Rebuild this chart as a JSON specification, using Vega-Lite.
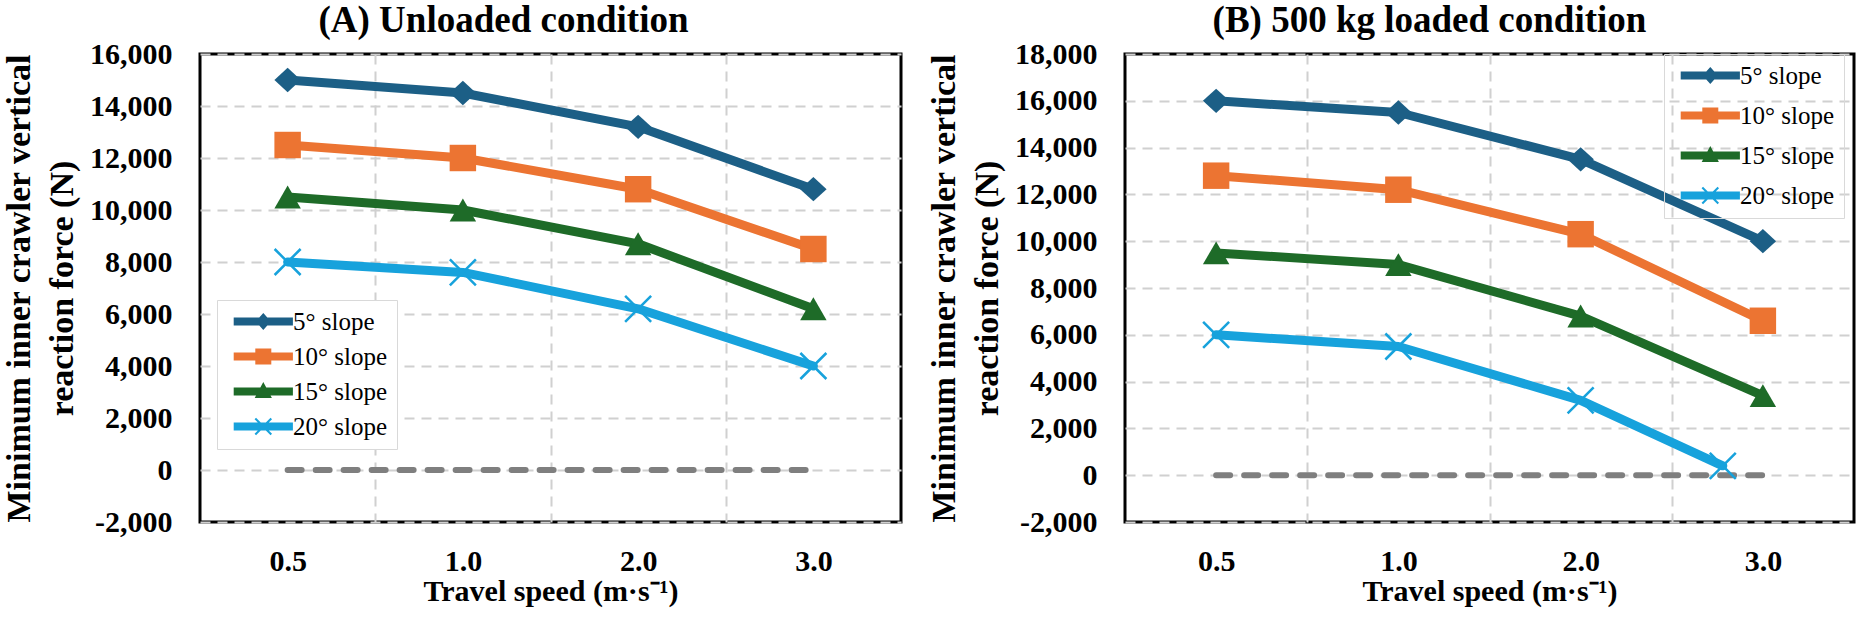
{
  "$schema": "https://vega.github.io/schema/vega-lite/v6.json",
  "background": "white",
  "padding": {"left": 0, "top": 0, "right": 0, "bottom": 0},
  "spacing": 22,
  "config": {
    "font": "Liberation Serif",
    "view": {"stroke": "black", "strokeWidth": 3},
    "axis": {
      "gridColor": "#d0d0d0",
      "gridDash": [10, 7],
      "gridWidth": 2,
      "ticks": false,
      "domain": false,
      "labelColor": "black",
      "titleColor": "black",
      "labelFont": "Liberation Serif",
      "titleFont": "Liberation Serif",
      "labelFontWeight": "bold",
      "titleFontWeight": "bold"
    },
    "legend": {
      "labelFont": "Liberation Serif",
      "labelFontSize": 25,
      "labelColor": "black",
      "symbolSize": 64,
      "symbolStrokeWidth": 0,
      "labelOffset": 42,
      "padding": 9,
      "strokeColor": "#d9d9d9",
      "labelLimit": 0
    }
  },
  "datasets": {
    "baseline": [
      {"speedIndex": 0, "force": 0},
      {"speedIndex": 1, "force": 0},
      {"speedIndex": 2, "force": 0},
      {"speedIndex": 3, "force": 0}
    ],
    "unloaded": [
      {"slope": "5° slope", "speedIndex": 0, "force": 15000},
      {"slope": "5° slope", "speedIndex": 1, "force": 14500},
      {"slope": "5° slope", "speedIndex": 2, "force": 13200},
      {"slope": "5° slope", "speedIndex": 3, "force": 10800},
      {"slope": "10° slope", "speedIndex": 0, "force": 12500},
      {"slope": "10° slope", "speedIndex": 1, "force": 12000},
      {"slope": "10° slope", "speedIndex": 2, "force": 10800},
      {"slope": "10° slope", "speedIndex": 3, "force": 8500},
      {"slope": "15° slope", "speedIndex": 0, "force": 10500},
      {"slope": "15° slope", "speedIndex": 1, "force": 10000},
      {"slope": "15° slope", "speedIndex": 2, "force": 8700},
      {"slope": "15° slope", "speedIndex": 3, "force": 6200},
      {"slope": "20° slope", "speedIndex": 0, "force": 8000},
      {"slope": "20° slope", "speedIndex": 1, "force": 7600},
      {"slope": "20° slope", "speedIndex": 2, "force": 6200},
      {"slope": "20° slope", "speedIndex": 3, "force": 4000}
    ],
    "loaded": [
      {"slope": "5° slope", "speedIndex": 0, "force": 16000},
      {"slope": "5° slope", "speedIndex": 1, "force": 15500},
      {"slope": "5° slope", "speedIndex": 2, "force": 13500},
      {"slope": "5° slope", "speedIndex": 3, "force": 10000},
      {"slope": "10° slope", "speedIndex": 0, "force": 12800},
      {"slope": "10° slope", "speedIndex": 1, "force": 12200},
      {"slope": "10° slope", "speedIndex": 2, "force": 10300},
      {"slope": "10° slope", "speedIndex": 3, "force": 6600},
      {"slope": "15° slope", "speedIndex": 0, "force": 9500},
      {"slope": "15° slope", "speedIndex": 1, "force": 9000},
      {"slope": "15° slope", "speedIndex": 2, "force": 6800},
      {"slope": "15° slope", "speedIndex": 3, "force": 3400},
      {"slope": "20° slope", "speedIndex": 0, "force": 6000},
      {"slope": "20° slope", "speedIndex": 1, "force": 5500},
      {"slope": "20° slope", "speedIndex": 2, "force": 3200},
      {"slope": "20° slope", "speedIndex": 2.78, "force": 400}
    ]
  },
  "resolve": {
    "scale": {"color": "independent", "shape": "independent", "y": "independent", "x": "independent"},
    "legend": {"color": "independent", "shape": "independent"}
  },
  "hconcat": [
    {
      "title": {"text": "(A) Unloaded condition", "font": "Liberation Serif", "fontSize": 37, "fontWeight": "bold", "color": "black", "anchor": "middle", "dx": -47, "baseline": "alphabetic", "offset": -30},
      "width": 701,
      "height": 468,
      "layer": [
        {
          "data": {"name": "baseline"},
          "mark": {"type": "line", "color": "#7f7f7f", "strokeWidth": 6, "strokeDash": [14, 14], "strokeCap": "round"},
          "encoding": {
            "x": {"field": "speedIndex", "type": "quantitative", "scale": {"domain": [-0.5, 3.5], "nice": false, "zero": false},
              "axis": {"values": [0, 0.5, 1, 1.5, 2, 2.5, 3], "grid": true,
                "gridOpacity": {"condition": {"test": "datum.value % 1 !== 0", "value": 1}, "value": 0},
                "labelExpr": "datum.value % 1 === 0 ? ['0.5', '1.0', '2.0', '3.0'][datum.value] : ''",
                "labelFont": "Liberation Serif", "labelFontWeight": "bold",
                "labelFontSize": 30, "labelPadding": 24, "labelFlush": false, "labelOverlap": false,
                "title": "Travel  speed (m·s⁻¹)", "titleFont": "Liberation Serif", "titleFontWeight": "bold", "titleFontSize": 30, "titlePadding": 0}},
            "y": {"field": "force", "type": "quantitative", "scale": {"domain": [-2000, 16000], "nice": false, "zero": false},
              "axis": {"values": [-2000, 0, 2000, 4000, 6000, 8000, 10000, 12000, 14000, 16000],
                "labelExpr": "replace(format(datum.value, ','), '−', '-')",
                "labelFont": "Liberation Serif", "labelFontWeight": "bold",
                "labelFontSize": 30, "labelPadding": 28, "labelFlush": false,
                "title": ["Minimum inner crawler vertical", "reaction force (N)"],
                "titleFont": "Liberation Serif", "titleFontWeight": "bold",
                "titleFontSize": 34, "titleLineHeight": 43, "titlePadding": 10}}
          }
        },
        {
          "data": {"name": "unloaded"},
          "mark": {"type": "line", "strokeWidth": 9, "strokeJoin": "round", "strokeCap": "round"},
          "encoding": {
            "x": {"field": "speedIndex", "type": "quantitative"},
            "y": {"field": "force", "type": "quantitative"},
            "color": {"field": "slope", "type": "nominal",
              "scale": {"domain": ["5° slope", "10° slope", "15° slope", "20° slope"], "range": ["#1c5f86", "#ec7432", "#1e6b28", "#17a2dc"]},
              "legend": {"title": null, "orient": "none", "legendX": 17, "legendY": 246, "rowPadding": 9, "fillColor": "white",
                "labelFont": "Liberation Serif", "labelFontSize": 25, "labelOffset": 42,
                "encode": {"symbols": {"update": {
                  "shape": {"signal": "datum.value === '5° slope' ? 'M-1.2,-1L13.6,-1L13.6,1L-1.2,1ZM4.3,0L6.2,-2.1L8.1,0L6.2,2.1Z' : datum.value === '10° slope' ? 'M-1.2,-1L13.6,-1L13.6,1L-1.2,1ZM4.2,-2L8.2,-2L8.2,2L4.2,2Z' : datum.value === '15° slope' ? 'M-1.2,-1L13.6,-1L13.6,1L-1.2,1ZM6.2,-2.4L8.35,1.6L4.05,1.6Z' : 'M-1.2,-1L13.6,-1L13.6,1L-1.2,1ZM4.38,-2.18L8.38,1.82L8.02,2.18L4.02,-1.82ZM8.38,-1.82L4.38,2.18L4.02,1.82L8.02,-2.18Z'"},
                  "fill": {"signal": "datum.value === '5° slope' ? '#1c5f86' : datum.value === '10° slope' ? '#ec7432' : datum.value === '15° slope' ? '#1e6b28' : '#17a2dc'"},
                  "fillOpacity": {"value": 1},
                  "opacity": {"value": 1},
                  "stroke": {"value": "transparent"},
                  "strokeWidth": {"value": 0}
                }}}}}
          }
        },
        {
          "data": {"name": "unloaded"},
          "transform": [{"filter": "datum.slope !== '20° slope'"}],
          "mark": {"type": "point", "filled": true, "opacity": 1, "size": 700},
          "encoding": {
            "x": {"field": "speedIndex", "type": "quantitative"},
            "y": {"field": "force", "type": "quantitative"},
            "color": {"field": "slope", "type": "nominal", "legend": null},
            "shape": {"field": "slope", "type": "nominal", "legend": null,
              "scale": {"domain": ["5° slope", "10° slope", "15° slope"], "range": ["M-1,0L0,-0.92L1,0L0,0.92Z", "square", "triangle-up"]}}
          }
        },
        {
          "data": {"name": "unloaded"},
          "transform": [{"filter": "datum.slope === '20° slope'"}],
          "mark": {"type": "point", "filled": false, "opacity": 1, "size": 676, "strokeWidth": 2.5, "shape": "M-1,-1L1,1M-1,1L1,-1"},
          "encoding": {
            "x": {"field": "speedIndex", "type": "quantitative"},
            "y": {"field": "force", "type": "quantitative"},
            "color": {"field": "slope", "type": "nominal", "legend": null}
          }
        }
      ]
    },
    {
      "title": {"text": "(B) 500 kg loaded condition", "font": "Liberation Serif", "fontSize": 37, "fontWeight": "bold", "color": "black", "anchor": "middle", "dx": -60, "baseline": "alphabetic", "offset": -30},
      "width": 729,
      "height": 468,
      "layer": [
        {
          "data": {"name": "baseline"},
          "mark": {"type": "line", "color": "#7f7f7f", "strokeWidth": 6, "strokeDash": [14, 14], "strokeCap": "round"},
          "encoding": {
            "x": {"field": "speedIndex", "type": "quantitative", "scale": {"domain": [-0.5, 3.5], "nice": false, "zero": false},
              "axis": {"values": [0, 0.5, 1, 1.5, 2, 2.5, 3], "grid": true,
                "gridOpacity": {"condition": {"test": "datum.value % 1 !== 0", "value": 1}, "value": 0},
                "labelExpr": "datum.value % 1 === 0 ? ['0.5', '1.0', '2.0', '3.0'][datum.value] : ''",
                "labelFont": "Liberation Serif", "labelFontWeight": "bold",
                "labelFontSize": 30, "labelPadding": 24, "labelFlush": false, "labelOverlap": false,
                "title": "Travel  speed (m·s⁻¹)", "titleFont": "Liberation Serif", "titleFontWeight": "bold", "titleFontSize": 30, "titlePadding": 0}},
            "y": {"field": "force", "type": "quantitative", "scale": {"domain": [-2000, 18000], "nice": false, "zero": false},
              "axis": {"values": [-2000, 0, 2000, 4000, 6000, 8000, 10000, 12000, 14000, 16000, 18000],
                "labelExpr": "replace(format(datum.value, ','), '−', '-')",
                "labelFont": "Liberation Serif", "labelFontWeight": "bold",
                "labelFontSize": 30, "labelPadding": 28, "labelFlush": false,
                "title": ["Minimum inner crawler vertical", "reaction force (N)"],
                "titleFont": "Liberation Serif", "titleFontWeight": "bold",
                "titleFontSize": 34, "titleLineHeight": 43, "titlePadding": 10}}
          }
        },
        {
          "data": {"name": "loaded"},
          "mark": {"type": "line", "strokeWidth": 9, "strokeJoin": "round", "strokeCap": "round"},
          "encoding": {
            "x": {"field": "speedIndex", "type": "quantitative"},
            "y": {"field": "force", "type": "quantitative"},
            "color": {"field": "slope", "type": "nominal",
              "scale": {"domain": ["5° slope", "10° slope", "15° slope", "20° slope"], "range": ["#1c5f86", "#ec7432", "#1e6b28", "#17a2dc"]},
              "legend": {"title": null, "orient": "none", "legendX": 539, "legendY": 0, "rowPadding": 14,
                "labelFont": "Liberation Serif", "labelFontSize": 25, "labelOffset": 42,
                "encode": {"symbols": {"update": {
                  "shape": {"signal": "datum.value === '5° slope' ? 'M-1.2,-1L13.6,-1L13.6,1L-1.2,1ZM4.3,0L6.2,-2.1L8.1,0L6.2,2.1Z' : datum.value === '10° slope' ? 'M-1.2,-1L13.6,-1L13.6,1L-1.2,1ZM4.2,-2L8.2,-2L8.2,2L4.2,2Z' : datum.value === '15° slope' ? 'M-1.2,-1L13.6,-1L13.6,1L-1.2,1ZM6.2,-2.4L8.35,1.6L4.05,1.6Z' : 'M-1.2,-1L13.6,-1L13.6,1L-1.2,1ZM4.38,-2.18L8.38,1.82L8.02,2.18L4.02,-1.82ZM8.38,-1.82L4.38,2.18L4.02,1.82L8.02,-2.18Z'"},
                  "fill": {"signal": "datum.value === '5° slope' ? '#1c5f86' : datum.value === '10° slope' ? '#ec7432' : datum.value === '15° slope' ? '#1e6b28' : '#17a2dc'"},
                  "fillOpacity": {"value": 1},
                  "opacity": {"value": 1},
                  "stroke": {"value": "transparent"},
                  "strokeWidth": {"value": 0}
                }}}}}
          }
        },
        {
          "data": {"name": "loaded"},
          "transform": [{"filter": "datum.slope !== '20° slope'"}],
          "mark": {"type": "point", "filled": true, "opacity": 1, "size": 700},
          "encoding": {
            "x": {"field": "speedIndex", "type": "quantitative"},
            "y": {"field": "force", "type": "quantitative"},
            "color": {"field": "slope", "type": "nominal", "legend": null},
            "shape": {"field": "slope", "type": "nominal", "legend": null,
              "scale": {"domain": ["5° slope", "10° slope", "15° slope"], "range": ["M-1,0L0,-0.92L1,0L0,0.92Z", "square", "triangle-up"]}}
          }
        },
        {
          "data": {"name": "loaded"},
          "transform": [{"filter": "datum.slope === '20° slope'"}],
          "mark": {"type": "point", "filled": false, "opacity": 1, "size": 676, "strokeWidth": 2.5, "shape": "M-1,-1L1,1M-1,1L1,-1"},
          "encoding": {
            "x": {"field": "speedIndex", "type": "quantitative"},
            "y": {"field": "force", "type": "quantitative"},
            "color": {"field": "slope", "type": "nominal", "legend": null}
          }
        }
      ]
    }
  ]
}
